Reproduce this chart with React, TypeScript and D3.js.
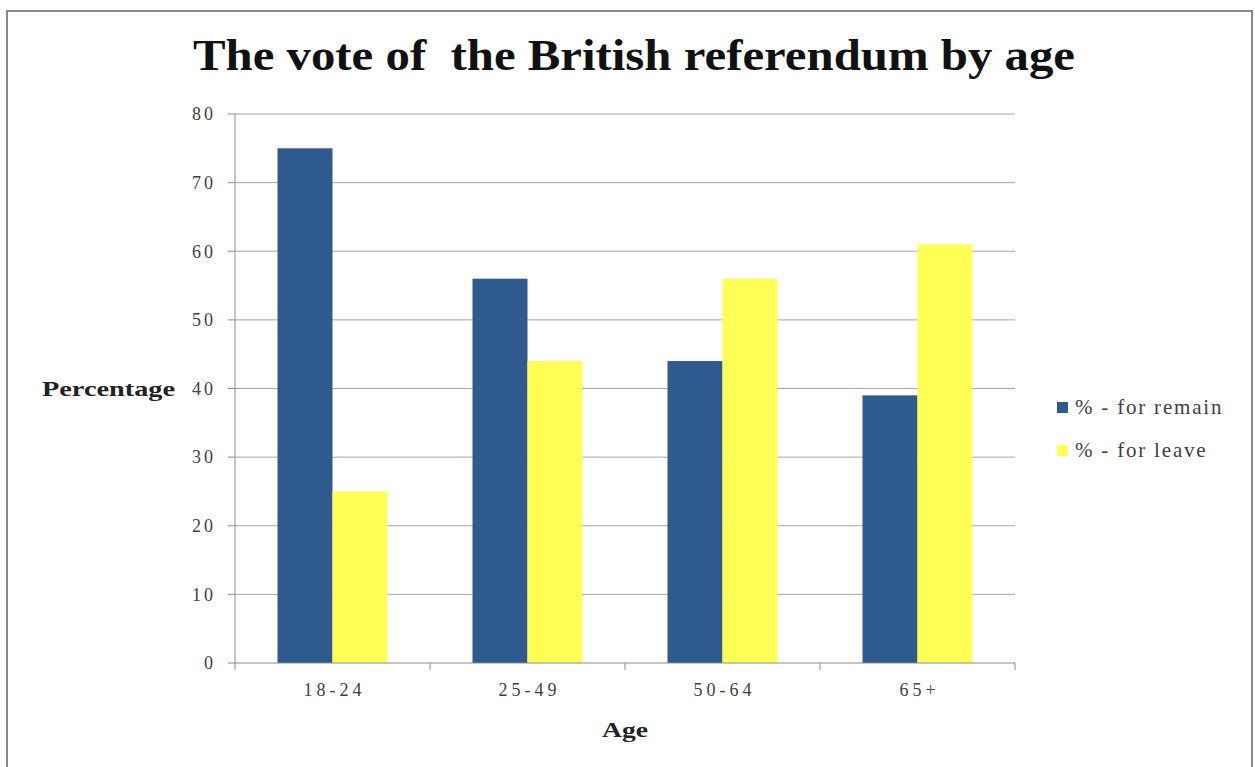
import React, { useEffect, useRef } from "react";
import * as d3 from "d3";

const categories = ["18-24", "25-49", "50-64", "65+"];
const remainValues = [75, 56, 44, 39];
const leaveValues = [25, 44, 56, 61];
const seriesNames = ["% - for remain", "% - for leave"];
const yTicks = [0, 10, 20, 30, 40, 50, 60, 70, 80];

const W = 1255;
const H = 767;
const M = { left: 235, right: 1015, top: 114, bottom: 663 };
const BLUE = "#2F5A8E";
const YELLOW = "#FFFF55";
const FONT = "'Liberation Serif', 'DejaVu Serif', serif";

export default function App() {
  const ref = useRef<SVGSVGElement>(null);

  useEffect(() => {
    const svg = d3.select(ref.current);
    svg.selectAll("*").remove();

    svg.append("rect").attr("x", 0).attr("y", 0).attr("width", W).attr("height", H).attr("fill", "#fff");
    svg.append("path")
      .attr("d", `M7,${H} V11 H1252 V${H}`)
      .attr("fill", "none").attr("stroke", "#8a8a8a").attr("stroke-width", 2);

    const x = d3.scaleBand<string>().domain(categories).range([M.left, M.right]).paddingInner(0).paddingOuter(0);
    const y = d3.scaleLinear().domain([0, 80]).range([M.bottom, M.top]);
    const barW = 55;

    svg.append("g").selectAll("line").data(yTicks.filter(t => t > 0)).join("line")
      .attr("x1", M.left).attr("x2", M.right)
      .attr("y1", d => y(d)).attr("y2", d => y(d))
      .attr("stroke", "#a6a6a6").attr("stroke-width", 1);

    const g = svg.append("g");
    categories.forEach((c, i) => {
      const cx = (x(c) as number) + x.bandwidth() / 2;
      g.append("rect").attr("x", cx - barW).attr("width", barW)
        .attr("y", y(remainValues[i])).attr("height", y(0) - y(remainValues[i])).attr("fill", BLUE);
      g.append("rect").attr("x", cx).attr("width", barW)
        .attr("y", y(leaveValues[i])).attr("height", y(0) - y(leaveValues[i])).attr("fill", YELLOW);
    });

    svg.append("line").attr("x1", M.left).attr("x2", M.left).attr("y1", M.top).attr("y2", M.bottom)
      .attr("stroke", "#8c8c8c").attr("stroke-width", 1);
    const yg = svg.append("g");
    yTicks.forEach(t => {
      yg.append("line").attr("x1", M.left - 7).attr("x2", M.left).attr("y1", y(t)).attr("y2", y(t))
        .attr("stroke", "#8c8c8c");
      yg.append("text").attr("x", M.left - 19).attr("y", y(t)).attr("dy", "0.35em")
        .attr("text-anchor", "end").attr("font-family", FONT).attr("font-size", 18)
        .attr("letter-spacing", 3).attr("fill", "#404040")
        .text(String(t));
    });

    svg.append("line").attr("x1", M.left).attr("x2", M.right).attr("y1", M.bottom).attr("y2", M.bottom)
      .attr("stroke", "#8c8c8c");
    const bounds = [...categories.map(c => x(c) as number), M.right];
    bounds.forEach(b => {
      svg.append("line").attr("x1", b).attr("x2", b).attr("y1", M.bottom).attr("y2", M.bottom + 7)
        .attr("stroke", "#8c8c8c");
    });
    categories.forEach(c => {
      svg.append("text").attr("x", (x(c) as number) + x.bandwidth() / 2 + 2).attr("y", M.bottom + 33)
        .attr("text-anchor", "middle").attr("font-family", FONT).attr("font-size", 18)
        .attr("letter-spacing", 4).attr("fill", "#404040")
        .text(c);
    });

    svg.append("text").attr("x", 634).attr("y", 70).attr("text-anchor", "middle")
      .attr("font-family", FONT).attr("font-weight", "bold").attr("font-size", 44).attr("fill", "#111")
      .attr("textLength", 882).attr("lengthAdjust", "spacingAndGlyphs")
      .style("white-space", "pre")
      .text("The vote of  the British referendum by age");

    svg.append("text").attr("x", 42).attr("y", 396)
      .attr("font-family", FONT).attr("font-weight", "bold").attr("font-size", 22).attr("fill", "#222")
      .attr("textLength", 133).attr("lengthAdjust", "spacingAndGlyphs")
      .text("Percentage");
    svg.append("text").attr("x", 625).attr("y", 737).attr("text-anchor", "middle")
      .attr("font-family", FONT).attr("font-weight", "bold").attr("font-size", 22).attr("fill", "#222")
      .attr("textLength", 46).attr("lengthAdjust", "spacingAndGlyphs")
      .text("Age");

    const colors = [BLUE, YELLOW];
    seriesNames.forEach((n, i) => {
      const ly = 407 + i * 43;
      svg.append("rect").attr("x", 1057).attr("y", ly - 5).attr("width", 11).attr("height", 11).attr("fill", colors[i]);
      svg.append("text").attr("x", 1075).attr("y", ly).attr("dy", "0.35em")
        .attr("font-family", FONT).attr("font-size", 21).attr("fill", "#404040")
        .attr("letter-spacing", 1.8)
        .style("white-space", "pre")
        .text(n);
    });
  }, []);

  return <svg ref={ref} width={W} height={H} style={{ position: "absolute", left: 0, top: 0 }} />;
}
